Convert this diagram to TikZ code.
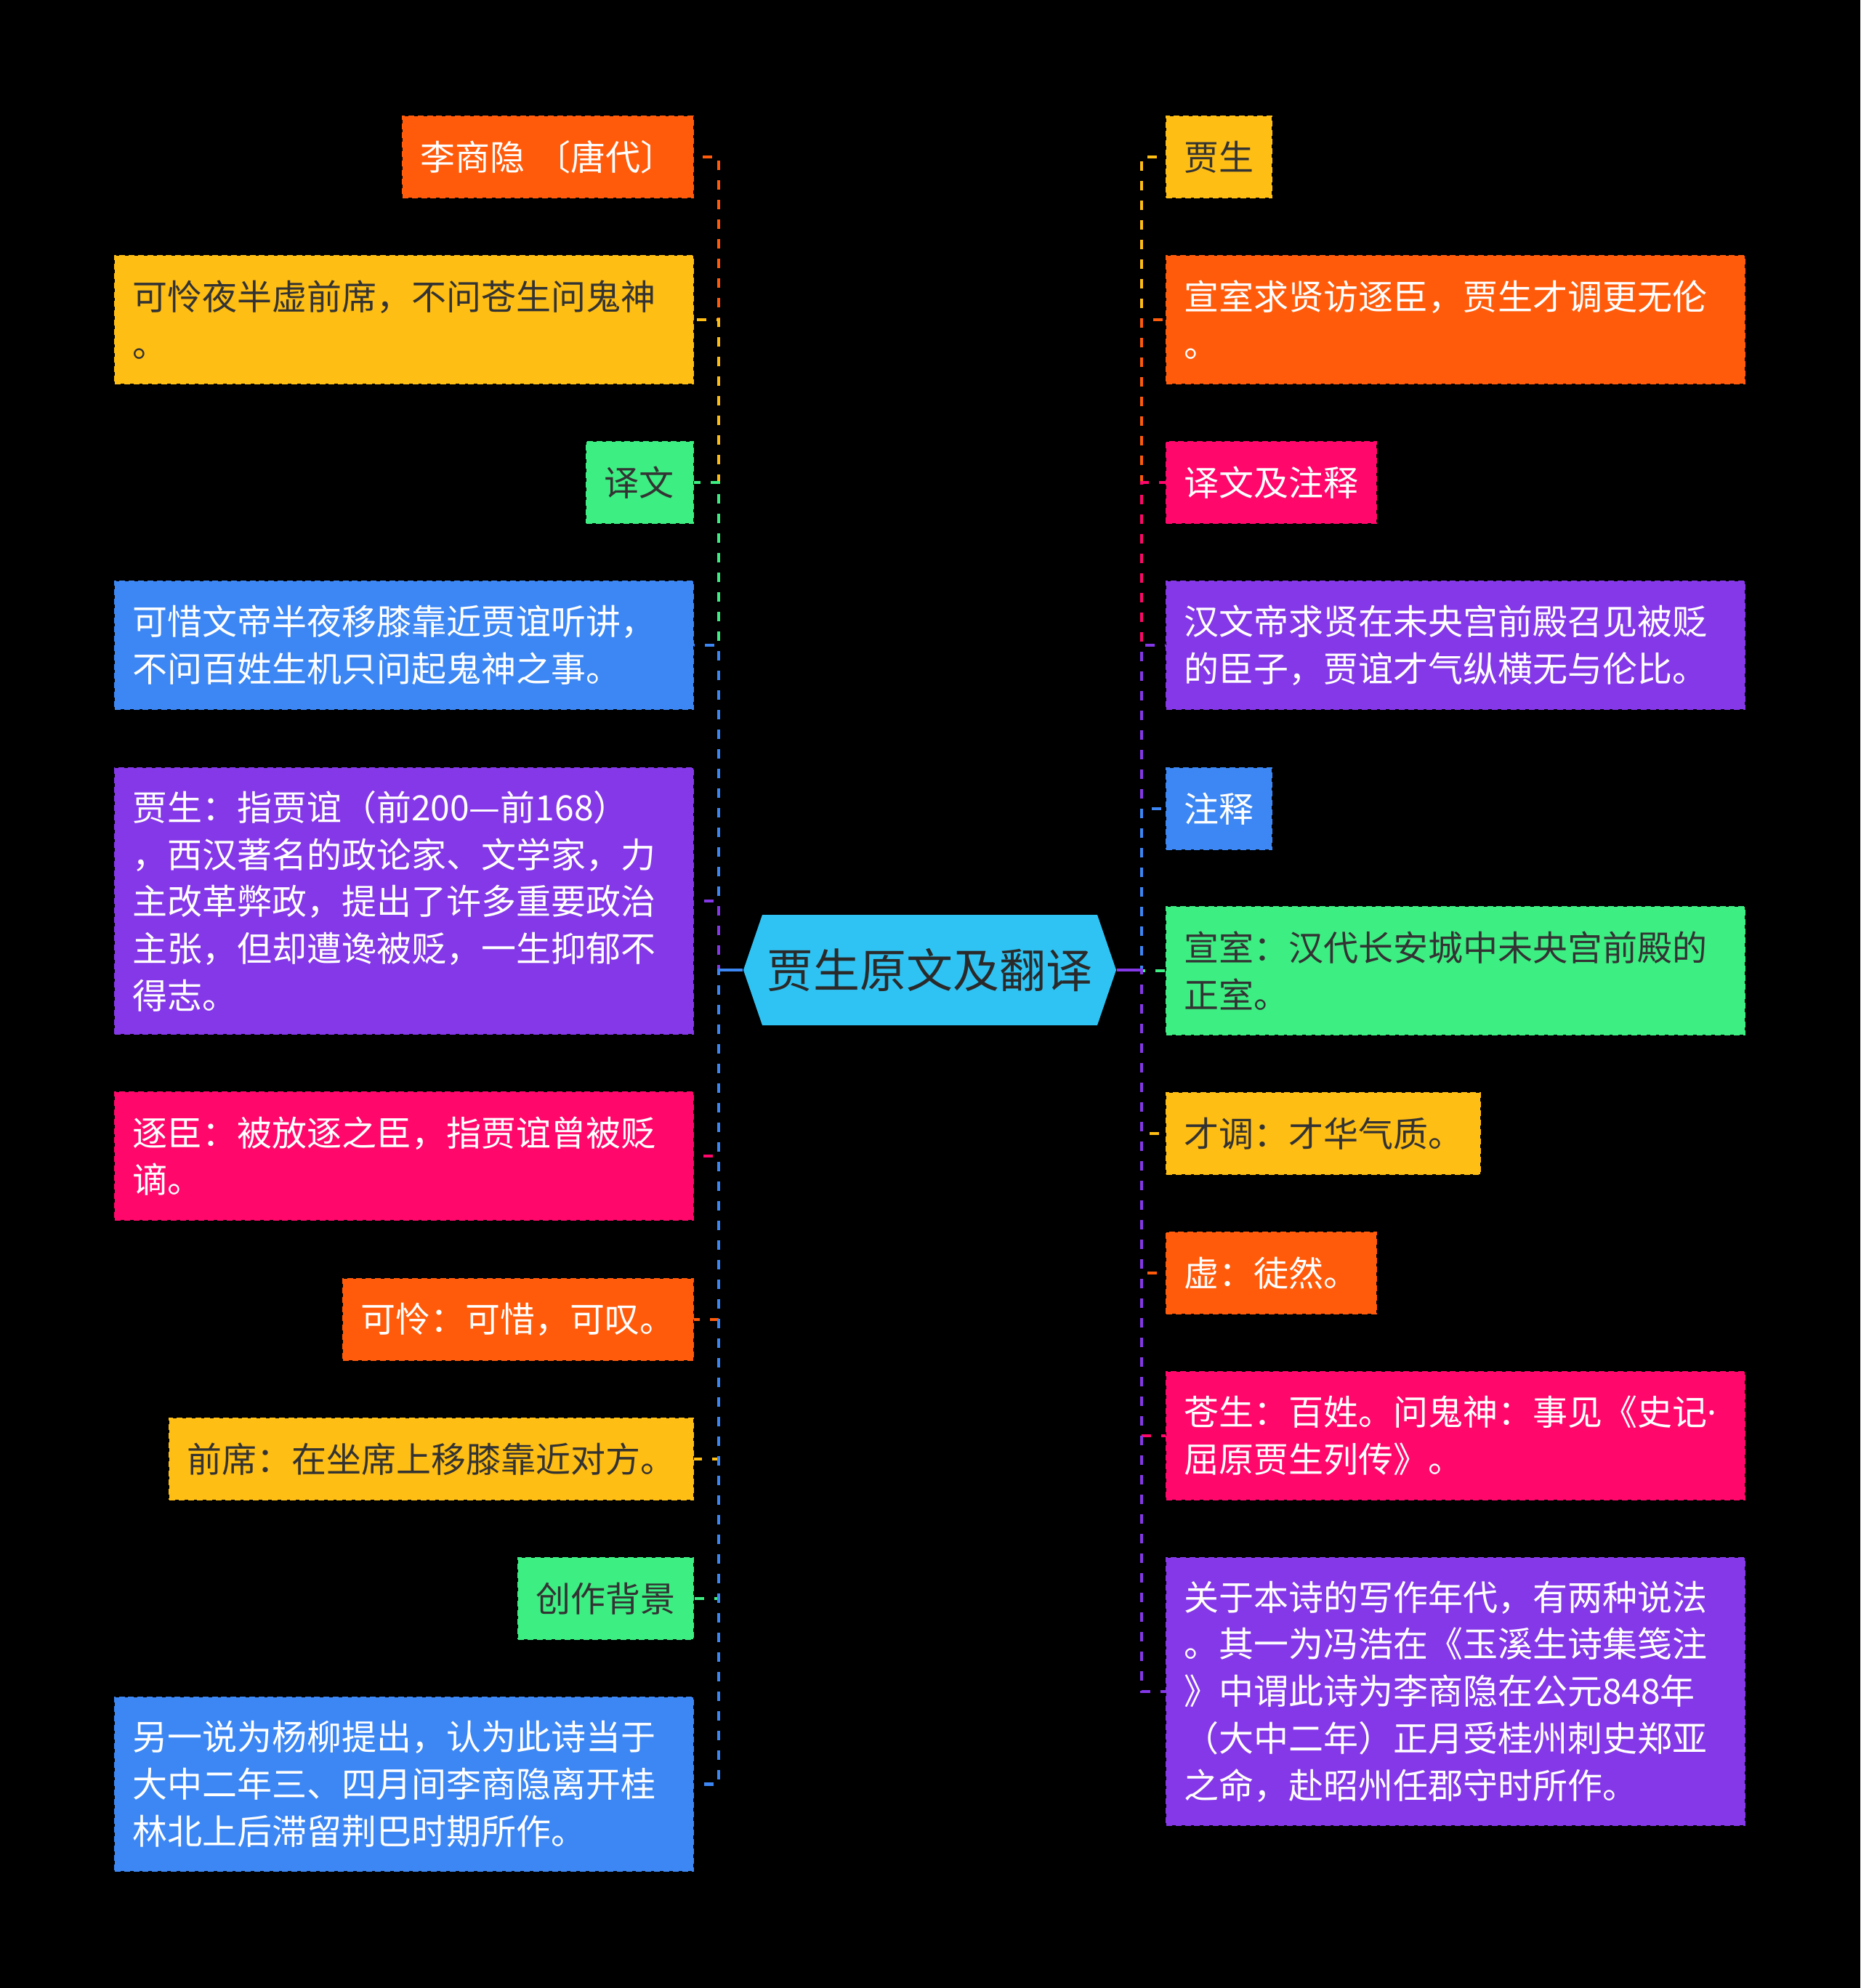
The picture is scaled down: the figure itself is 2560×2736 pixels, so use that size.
\documentclass[tikz,border=0pt]{standalone}
\usepackage{fontspec}
\setmainfont{Noto Sans CJK SC}
\newfontfamily\latfont{Noto Sans}
\definecolor{corange}{HTML}{FF5B0B}
\definecolor{cyellow}{HTML}{FFBE14}
\definecolor{cgreen}{HTML}{3DEE82}
\definecolor{cblue}{HTML}{3C87F4}
\definecolor{cpurple}{HTML}{8538E8}
\definecolor{cpink}{HTML}{FF076B}
\definecolor{ccyan}{HTML}{2FC3F3}
\definecolor{cdark}{HTML}{333333}
\definecolor{croottext}{HTML}{2A2A2A}
\begin{document}
\begin{tikzpicture}[x=0.25pt,y=-0.25pt,
  bx/.style={rectangle, inner xsep=6pt, inner ysep=0pt, align=left,
    font=\fontsize{12pt}{16.2pt}\selectfont, line width=0.5pt, dash pattern=on 2pt off 1.2pt},
  lb/.style={bx, anchor=north east},
  rb/.style={bx, anchor=north west},
  cO/.style={fill=corange, draw=corange, text=white},
  cY/.style={fill=cyellow, draw=cyellow, text=cdark},
  cG/.style={fill=cgreen, draw=cgreen, text=cdark},
  cB/.style={fill=cblue, draw=cblue, text=white},
  cP/.style={fill=cpurple, draw=cpurple, text=white},
  cK/.style={fill=cpink, draw=cpink, text=white},
  conn/.style={line width=1.1pt, dash pattern=on 3.25pt off 3.5pt},
  stub/.style={line width=1.1pt}]
\useasboundingbox (0,0) rectangle (2560,2736);
\fill[black] (0,0) rectangle (2560,2736);

% central topic
\fill[ccyan] (1023,1335) -- (1049,1259) -- (1510,1259) -- (1536,1335) -- (1510,1411) -- (1049,1411) -- cycle;
\node[font=\fontsize{16pt}{20pt}\selectfont, text=croottext, minimum width=128.25pt,
  minimum height=38pt, inner sep=0pt] (root) at (1279.5,1335) {贾生原文及翻译};

\coordinate (spL) at (989,1335);
\coordinate (spR) at (1571,1335);

% left boxes
\node[lb,cO,text width=88pt,minimum height=28pt] (L1) at (955,159) {李商隐 〔唐代〕};
\node[lb,cY,text width=187pt,minimum height=44pt] (L2) at (955,351) {可怜夜半虚前席，不问苍生问鬼神\\。};
\node[lb,cG,text width=24.75pt,minimum height=28pt] (L3) at (955,607) {译文};
\node[lb,cB,text width=187pt,minimum height=44pt] (L4) at (955,799) {可惜文帝半夜移膝靠近贾谊听讲，\\不问百姓生机只问起鬼神之事。};
\node[lb,cP,text width=187pt,minimum height=91.6pt] (L5) at (955,1056) {贾生：指贾谊（前200—前168）\\，西汉著名的政论家、文学家，力\\主改革弊政，提出了许多重要政治\\主张，但却遭谗被贬，一生抑郁不\\得志。};
\node[lb,cK,text width=187pt,minimum height=44pt] (L6) at (955,1502) {逐臣：被放逐之臣，指贾谊曾被贬\\谪。};
\node[lb,cO,text width=108.5pt,minimum height=28pt] (L7) at (955,1759) {可怜：可惜，可叹。};
\node[lb,cY,text width=168.25pt,minimum height=28pt] (L8) at (955,1951) {前席：在坐席上移膝靠近对方。};
\node[lb,cG,text width=48.25pt,minimum height=28pt] (L9) at (955,2143) {创作背景};
\node[lb,cB,text width=187pt,minimum height=59.8pt] (L10) at (955,2335) {另一说为杨柳提出，认为此诗当于\\大中二年三、四月间李商隐离开桂\\林北上后滞留荆巴时期所作。};

% right boxes
\node[rb,cY,text width=24.25pt,minimum height=28pt] (R1) at (1604,159) {贾生};
\node[rb,cO,text width=187pt,minimum height=44pt] (R2) at (1604,351) {宣室求贤访逐臣，贾生才调更无伦\\。};
\node[rb,cK,text width=60.25pt,minimum height=28pt] (R3) at (1604,607) {译文及注释};
\node[rb,cP,text width=187pt,minimum height=44pt] (R4) at (1604,799) {汉文帝求贤在未央宫前殿召见被贬\\的臣子，贾谊才气纵横无与伦比。};
\node[rb,cB,text width=24.25pt,minimum height=28pt] (R5) at (1604,1056) {注释};
\node[rb,cG,text width=187pt,minimum height=44pt] (R6) at (1604,1247) {宣室：汉代长安城中未央宫前殿的\\正室。};
\node[rb,cY,text width=96.1pt,minimum height=28pt] (R7) at (1604,1503) {才调：才华气质。};
\node[rb,cO,text width=60.25pt,minimum height=28pt] (R8) at (1604,1695) {虚：徒然。};
\node[rb,cK,text width=187pt,minimum height=44pt] (R9) at (1604,1887) {苍生：百姓。问鬼神：事见《史记{\latfont ·}\\屈原贾生列传》。};
\node[rb,cP,text width=187pt,minimum height=92pt] (R10) at (1604,2143) {关于本诗的写作年代，有两种说法\\。其一为冯浩在《玉溪生诗集笺注\\》中谓此诗为李商隐在公元848年\\（大中二年）正月受桂州刺史郑亚\\之命，赴昭州任郡守时所作。};

% connectors (drawn from the root outwards so shared parts keep one dash phase)
\foreach \n/\c in {L1/corange,L2/cyellow,L3/cgreen,L4/cblue,L5/cpurple,L6/cpink,L7/corange,L8/cyellow,L9/cgreen,L10/cblue}
  \draw[conn,draw=\c] (root.west) -- (spL) -- (spL |- \n.east) -- (\n.east);
\foreach \n/\c in {R1/cyellow,R2/corange,R3/cpink,R4/cpurple,R5/cblue,R6/cgreen,R7/cyellow,R8/corange,R9/cpink,R10/cpurple}
  \draw[conn,draw=\c] (root.east) -- (spR) -- (spR |- \n.west) -- (\n.west);
\draw[stub,cblue] (root.west) -- (spL);
\draw[stub,cpurple] (root.east) -- (spR);
\end{tikzpicture}
\end{document}
